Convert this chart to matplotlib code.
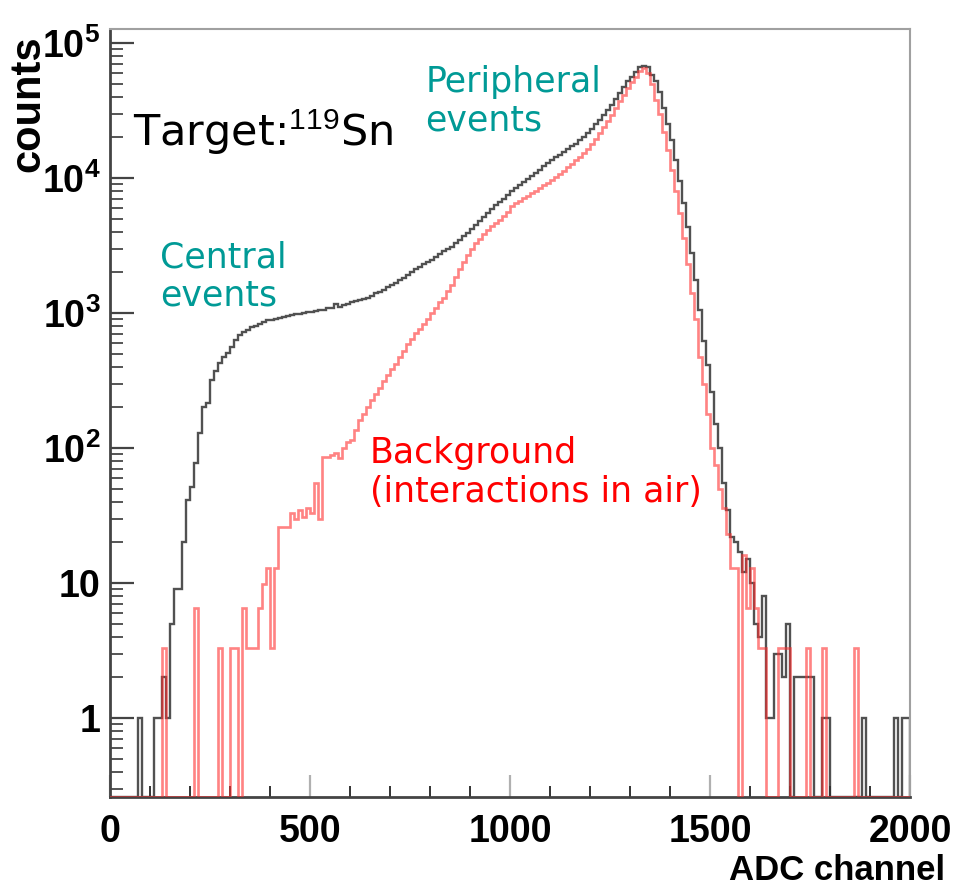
import matplotlib
matplotlib.use('Agg')
import matplotlib.pyplot as plt
import numpy as np
from matplotlib.ticker import FixedLocator, MultipleLocator, LogLocator, NullFormatter

# ADC spectrum, 10-channel bins from 0 to 2000
bin_edges = np.arange(0, 2001, 10)

target_counts = [
    0, 0, 0, 0, 0, 0, 0, 1, 0, 0,
    0, 1, 1, 2, 1, 5, 9, 9, 20, 41,
    51, 78, 129, 200, 215, 318, 370, 426, 470, 505,
    560, 630, 690, 720, 750, 790, 800, 830, 860, 880,
    890, 905, 920, 935, 950, 960, 975, 990, 1000, 1010,
    1025, 1040, 1050, 1060, 1080, 1090, 1170, 1110, 1140, 1160,
    1200, 1220, 1250, 1270, 1290, 1340, 1400, 1440, 1480, 1550,
    1620, 1680, 1750, 1830, 1920, 2000, 2100, 2200, 2300, 2400,
    2470, 2600, 2750, 2900, 3000, 3100, 3300, 3500, 3700, 3900,
    4200, 4500, 4800, 5100, 5500, 5900, 6300, 6600, 7000, 7500,
    8000, 8500, 8900, 9300, 9800, 10300, 10900, 11500, 12200, 12900,
    13500, 14200, 14900, 15600, 16400, 17200, 18000, 19000, 20000, 21500,
    23000, 25000, 27000, 29500, 32000, 35000, 38500, 42500, 47000, 52000,
    56000, 61000, 66000, 67000, 66000, 58000, 52000, 43000, 33000, 25000,
    19000, 13500, 9500, 6500, 4300, 2800, 1750, 1050, 620, 410,
    260, 150, 100, 55, 35, 22, 20, 17, 12, 15,
    10, 5, 4, 8, 1, 1, 3, 3, 2, 5,
    0, 2, 2, 2, 2, 2, 0, 0, 1, 1,
    0, 0, 0, 0, 0, 0, 0, 0, 1, 0,
    0, 0, 0, 0, 0, 0, 1, 0, 1, 1,
]

background_counts = [
    0, 0, 0, 0, 0, 0, 0, 0, 0, 0,
    0, 0, 0, 3.3, 0, 0, 0, 0, 0, 0,
    0, 6.5, 0, 0, 0, 0, 0, 3.3, 0, 0,
    3.3, 3.3, 0, 6.5, 3.3, 3.3, 3.3, 6.5, 9.8, 13,
    3.3, 13, 26, 26, 26, 33, 30, 35, 31, 36,
    33, 55, 30, 86, 86, 88, 92, 85, 100, 110,
    115, 135, 160, 180, 200, 225, 250, 280, 315, 350,
    385, 420, 470, 520, 590, 640, 710, 760, 830, 900,
    1000, 1080, 1200, 1300, 1450, 1600, 1850, 2100, 2400, 2700,
    3000, 3300, 3550, 3850, 4150, 4400, 4650, 4900, 5200, 5600,
    6200, 6500, 6800, 7100, 7400, 7700, 8000, 8400, 8800, 9150,
    9600, 10100, 10700, 11300, 12000, 12700, 13500, 14300, 15300, 16500,
    18000, 19500, 21500, 24000, 26500, 29500, 33000, 37000, 41500, 46500,
    51000, 56000, 62000, 65000, 60000, 50000, 38000, 30000, 22000, 16000,
    11500, 8000, 5500, 3600, 2300, 1400, 900, 470, 300, 180,
    100, 75, 50, 36, 23, 13, 13, 0, 16, 6.5,
    13, 6.5, 3.3, 3.3, 0, 0, 0, 3.3, 3.3, 3.3,
    0, 0, 0, 0, 3.3, 0, 0, 0, 3.3, 0,
    0, 0, 0, 0, 0, 0, 3.3, 0, 0, 0,
    0, 0, 0, 0, 0, 0, 0, 0, 0, 0,
]

y_ticks = [1, 10, 100, 1e3, 1e4, 1e5]
y_tick_labels = ['1', '10', r'$\mathbf{10^{2}}$', r'$\mathbf{10^{3}}$',
                 r'$\mathbf{10^{4}}$', r'$\mathbf{10^{5}}$']
x_ticks = [0, 500, 1000, 1500, 2000]

YMIN, YMAX = 0.26, 1.27e5

plt.rcParams['mathtext.fontset'] = 'custom'
plt.rcParams['mathtext.rm'] = 'Liberation Sans'
plt.rcParams['mathtext.bf'] = 'Liberation Sans:bold'


def main():
    fig = plt.figure(figsize=(9.6, 8.91), dpi=100)
    ax = fig.add_axes([0.1146, 0.1055, 0.8333, 0.862])
    ax.set_yscale('log')

    # ROOT draws empty bins down to the bottom of the frame
    tgt = np.array(target_counts, dtype=float)
    bkg = np.array(background_counts, dtype=float)
    tgt = np.where(tgt > 0, tgt, YMIN)
    bkg = np.where(bkg > 0, bkg, YMIN)

    ax.stairs(tgt, bin_edges, color='#333333', lw=1.7, alpha=0.85, zorder=2)
    ax.stairs(bkg, bin_edges, color='#ff3030', lw=1.9, alpha=0.6, zorder=3)

    ax.set_xlim(0, 2000)
    ax.set_ylim(YMIN, YMAX)

    for side in ['top', 'right']:
        ax.spines[side].set_color('#a0a0a0')
        ax.spines[side].set_linewidth(1.5)
    for side in ['left', 'bottom']:
        ax.spines[side].set_color('#444444')
        ax.spines[side].set_linewidth(2.0)

    ax.xaxis.set_major_locator(FixedLocator(x_ticks))
    ax.xaxis.set_minor_locator(MultipleLocator(100))
    ax.set_xticklabels([str(t) for t in x_ticks])
    ax.yaxis.set_major_locator(FixedLocator(y_ticks))
    ax.yaxis.set_minor_locator(LogLocator(base=10, subs=np.arange(2, 10)))
    ax.yaxis.set_minor_formatter(NullFormatter())
    ax.set_yticklabels(y_tick_labels)

    ax.tick_params(axis='both', which='both', direction='in', top=False, right=False)
    ax.tick_params(axis='x', which='major', length=16, width=1.6, color='#b0b0b0',
                   labelsize=27, pad=12)
    ax.tick_params(axis='x', which='minor', length=8, width=1.4, color='#333333')
    ax.tick_params(axis='y', which='major', length=17, width=1.6, color='#444444',
                   labelsize=27, pad=7)
    ax.tick_params(axis='y', which='minor', length=9, width=1.4, color='#555555')
    for lbl in ax.get_xticklabels() + ax.get_yticklabels():
        lbl.set_fontfamily('Liberation Sans')
        lbl.set_fontweight('bold')

    fig.text(0.985, 0.004, 'ADC channel', ha='right', va='bottom', fontsize=25,
             fontweight='bold', family='Liberation Sans')
    fig.text(0.030, 0.884, 'counts', ha='center', va='center', rotation=90,
             fontsize=30, fontweight='bold', family='Liberation Sans')

    ax.text(0.029, 0.865, 'Target:$^{119}$Sn', transform=ax.transAxes,
            fontsize=31, color='black', va='center', ha='left', family='DejaVu Sans')
    ax.text(0.394, 0.906, 'Peripheral\nevents', transform=ax.transAxes,
            fontsize=25, color='#009a96', va='center', ha='left',
            family='DejaVu Sans', linespacing=1.15)
    ax.text(0.0625, 0.678, 'Central\nevents', transform=ax.transAxes,
            fontsize=25, color='#009a96', va='center', ha='left',
            family='DejaVu Sans', linespacing=1.15)
    ax.text(0.325, 0.4225, 'Background\n(interactions in air)', transform=ax.transAxes,
            fontsize=25, color='#ff0000', va='center', ha='left',
            family='DejaVu Sans', linespacing=1.15)

    fig.savefig('out.png', dpi=100)


if __name__ == '__main__':
    main()
